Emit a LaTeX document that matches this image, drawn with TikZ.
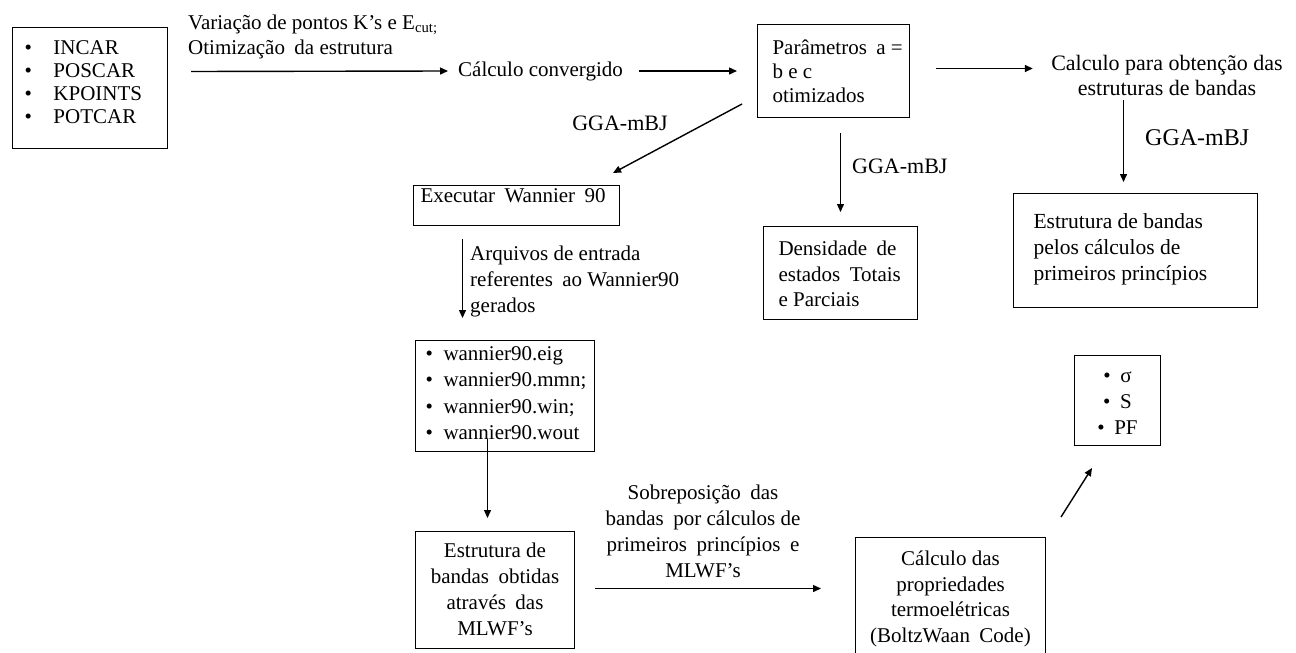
\documentclass[tikz,border=0pt]{standalone}
\usepackage{fontspec}
\setmainfont{Liberation Serif}
\usetikzlibrary{arrows.meta,calc}
\newcommand{\bulIn}{\makebox[29pt][l]{\textbullet}}
\newcommand{\bulWa}{\makebox[18pt][l]{\textbullet}}
\newcommand{\bulOu}{\makebox[17pt][l]{\textbullet}}
\newcommand{\dsp}{\hspace{0.45em}}
\begin{document}
\begin{tikzpicture}[x=1pt,y=-1pt,
  box/.style={draw=black, line width=1pt, anchor=north west, inner ysep=0pt,
    font=\fontsize{21pt}{25pt}\selectfont},
  lbl/.style={inner sep=0pt, font=\fontsize{21pt}{25pt}\selectfont},
  arr/.style={line width=1.4pt, -{Triangle[length=8pt,width=7pt]}}]
\useasboundingbox (0,0) rectangle (1296,653);

% boxes
\node[box, text width=131pt, inner xsep=12pt, align=flush left, text height=27pt, text depth=94pt,
  font=\fontsize{21pt}{23pt}\selectfont] (in) at (12,27)
  {\bulIn INCAR\\\bulIn POSCAR\\\bulIn KPOINTS\\\bulIn POTCAR};
\node[box, text width=122pt, inner xsep=15pt, align=flush left, text height=30pt, text depth=63pt,
  font=\fontsize{21pt}{24pt}\selectfont] (par) at (757,24)
  {\mbox{Parâmetros\dsp a =}\\b e c\\otimizados};
\node[box, text width=204pt, inner xsep=20pt, align=flush left, text height=35pt, text depth=79pt,
  font=\fontsize{21.5pt}{26pt}\selectfont] (band) at (1013,193)
  {\mbox{Estrutura de bandas}\\\mbox{pelos cálculos de}\\\mbox{primeiros princípios}};
\node[box, text width=192pt, inner xsep=7pt, align=flush left, text height=17pt, text depth=23pt] (exe) at (413,185)
  {\mbox{Executar\dsp Wannier\dsp 90}};
\node[box, text width=124pt, inner xsep=15pt, align=flush left, text height=29pt, text depth=64pt,
  font=\fontsize{21pt}{25.5pt}\selectfont] (dos) at (763,226)
  {\mbox{Densidade\dsp de}\\\mbox{estados\dsp Totais}\\\mbox{e Parciais}};
\node[box, text width=159pt, inner xsep=10pt, align=flush left, text height=20pt, text depth=91pt,
  font=\fontsize{21pt}{26.3pt}\selectfont] (wan) at (415,340)
  {\bulWa wannier90.eig\\\bulWa wannier90.mmn;\\\bulWa wannier90.win;\\\bulWa wannier90.wout};
\node[box, text width=149pt, inner xsep=5pt, align=flush center, text height=26pt, text depth=91pt,
  font=\fontsize{21pt}{26pt}\selectfont] (mlwf) at (415,531)
  {Estrutura de\\\mbox{bandas\dsp obtidas}\\\mbox{através\dsp das}\\MLWF’s};
\node[box, text width=180pt, inner xsep=5pt, align=flush center, text height=28pt, text depth=90pt,
  font=\fontsize{21pt}{25.7pt}\selectfont] (calc) at (855,537)
  {Cálculo das\\propriedades\\termoelétricas\\\mbox{(BoltzWaan\dsp Code)}};
\node[box, text width=76pt, inner xsep=5pt, align=flush center, text height=27pt, text depth=63pt,
  font=\fontsize{21pt}{26pt}\selectfont] (out) at (1074,355)
  {\bulOu σ\hspace*{14pt}\\\bulOu S\hspace*{14pt}\\\bulOu PF\hspace*{14pt}};

% free texts
\node[lbl, anchor=base west, text width=320pt, align=flush left] (l1) at (188,29)
  {Variação de pontos K’s e E\textsubscript{cut;}\\Otimização\dsp da estrutura};
\node[lbl, anchor=west, inner xsep=10pt] (conv) at (448,71) {Cálculo convergido};
\node[lbl, anchor=base, text width=240pt, align=flush center, font=\fontsize{22pt}{25pt}\selectfont] (cb) at (1167,70)
  {Calculo para obtenção das\\estruturas de bandas};
\node[lbl, anchor=west, font=\fontsize{24pt}{28pt}\selectfont] (g3) at (1145,138) {GGA-mBJ};
\node[lbl, font=\fontsize{22pt}{26pt}\selectfont] (g1) at (620,123) {GGA-mBJ};
\node[lbl, anchor=west, font=\fontsize{22pt}{26pt}\selectfont] (g2) at (852,166) {GGA-mBJ};
\node[lbl, anchor=base west, text width=250pt, align=flush left, font=\fontsize{21pt}{26pt}\selectfont] (lf) at (470,260)
  {Arquivos de entrada\\referentes\dsp ao Wannier90\\gerados};
\node[lbl, anchor=base, text width=260pt, align=flush center, font=\fontsize{21pt}{26pt}\selectfont] (sob) at (703,499)
  {Sobreposição\dsp das\\bandas\dsp por cálculos de\\primeiros\dsp princípios\dsp e\\MLWF’s};

% connectors
\coordinate (a1s) at ($(in.east)+(23,-16.5)$);
\draw[arr] (a1s) -- (conv.west);
\draw[arr, shorten <=6pt, shorten >=20pt] (conv.east) -- (conv.east -| par.west);
\coordinate (a3s) at ($(par.east)+(26,-2.5)$);
\draw[arr, shorten >=14pt] (a3s) -- (a3s -| cb.west);
\draw[arr] ($(band.north)+(-12,-93)$) -- ($(band.north)+(-12,-11)$);
\draw[arr] ($(par.south west)+(-15,-14)$) -- ($(exe.north east)+(-7,-12)$);
\draw[arr] ($(par.south)+(7,15)$) -- ($(dos.north)+(0,-14)$);
\draw[arr] ($(exe.south)+(-54,13)$) -- ($(wan.north)+(-42.5,-22)$);
\draw[arr] ($(wan.south)+(-17.5,-13)$) -- ($(mlwf.north)+(-7.5,-13)$);
\coordinate (a9s) at ($(mlwf.east)+(20,-1.5)$);
\draw[arr, shorten >=34pt] (a9s) -- (a9s -| calc.west);
\draw[arr] ($(calc.north east)+(15,-20)$) -- ($(out.south west)+(18,22)$);
\end{tikzpicture}
\end{document}
